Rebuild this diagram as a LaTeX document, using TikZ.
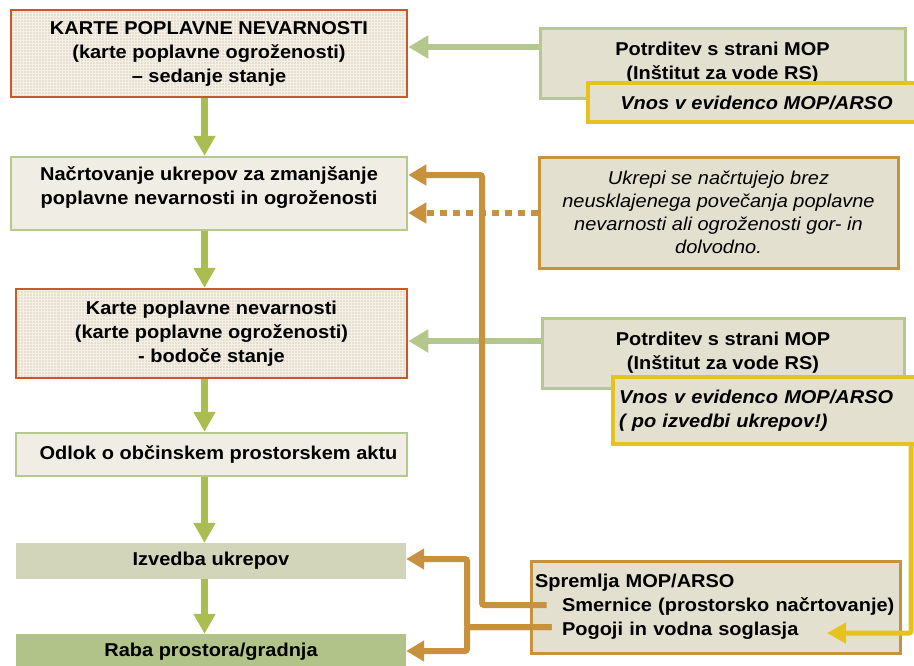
\documentclass[tikz,border=0pt]{standalone}
\usepackage{fontspec}
\setmainfont[FakeStretch=1.075]{Liberation Sans}
\usetikzlibrary{arrows.meta}
\definecolor{kred}{HTML}{C8572A}
\definecolor{kfill}{HTML}{E6DFCF}
\definecolor{kgrid}{HTML}{F4F0E7}
\definecolor{gborder}{HTML}{B5C98F}
\definecolor{lightfill}{HTML}{F0EDE5}
\definecolor{rfill}{HTML}{E4E0CF}
\definecolor{izfill}{HTML}{D3D5BA}
\definecolor{rabafill}{HTML}{B2C38A}
\definecolor{garr}{HTML}{A9BD50}
\definecolor{harr}{HTML}{B4C78D}
\definecolor{oarr}{HTML}{C8913C}
\definecolor{yarr}{HTML}{E6C21F}
\tikzset{
  base/.style={rectangle, align=center, inner sep=3pt},
  kbox/.style={base, draw=kred, line width=2.5, fill=kfill,
    path picture={\draw[kgrid, line width=0.7] (path picture bounding box.south west) grid[step=3pt] (path picture bounding box.north east);}},
  lbox/.style={base, draw=gborder, line width=2.5, fill=lightfill},
  rbox/.style={base, draw=gborder, line width=3, fill=rfill},
  vbox/.style={base, draw=yarr, line width=3.3, fill=rfill, font=\fontsize{18.6}{24}\selectfont\bfseries\itshape},
  obox/.style={base, draw=oarr, line width=3, fill=rfill},
  garrow/.style={draw=garr, line width=7, -{Triangle[width=21pt,length=20pt]}},
  harrow/.style={draw=harr, line width=6, -{Triangle[width=22pt,length=20pt]}},
  oarrow/.style={draw=oarr, line width=6, rounded corners=2, -{Triangle[width=20pt,length=18pt]}},
  yarrow/.style={draw=yarr, line width=5, rounded corners=2, -{Triangle[width=20pt,length=19pt]}},
}
\begin{document}
\begin{tikzpicture}[x=1pt, y=-1pt, font=\fontsize{18.6}{24}\selectfont\bfseries]
\fill[white] (0,0) rectangle (914,665);
\useasboundingbox (0,0) rectangle (914,665);

% left column
\node[kbox, minimum width=396, minimum height=87] (k1) at (209,53.5)
  {KARTE POPLAVNE NEVARNOSTI\\(karte poplavne ogroženosti)\\– sedanje stanje};
\node[lbox, minimum width=396, minimum height=73, text depth=15pt] (n2) at (209,193.5)
  {Načrtovanje ukrepov za zmanjšanje\\poplavne nevarnosti in ogroženosti};
\node[kbox, minimum width=391, minimum height=89] (k3) at (211.5,333.5)
  {Karte poplavne nevarnosti\\(karte poplavne ogroženosti)\\- bodoče stanje};
\node[lbox, minimum width=391, minimum height=43] (o4) at (211.5,454.5)
  {\hspace*{14pt}Odlok o občinskem prostorskem aktu};
\node[base, fill=izfill, minimum width=390, minimum height=36] (i5) at (211,561)
  {Izvedba ukrepov};
\node[base, fill=rabafill, minimum width=390, minimum height=36] (r6) at (211,652)
  {Raba prostora/gradnja};

% right column
\node[rbox, minimum width=365, minimum height=70] (p1) at (722.5,63)
  {Potrditev s strani MOP\\(Inštitut za vode RS)};
\node[vbox, minimum width=337, minimum height=39] (v1) at (756.5,102.5)
  {Vnos v evidenco MOP/ARSO};
\node[obox, minimum width=359, minimum height=111,
  font=\fontsize{18.6}{23}\selectfont\mdseries\itshape] (u) at (718.5,212.5)
  {Ukrepi se načrtujejo brez\\neusklajenega povečanja poplavne\\nevarnosti ali ogroženosti gor- in\\dolvodno.};
\node[rbox, minimum width=362, minimum height=70] (p2) at (723,353)
  {Potrditev s strani MOP\\(Inštitut za vode RS)};
\node[vbox, text width=300pt, inner xsep=6pt, align=left, minimum height=67] (v2) at (769,410.5)
  {Vnos v evidenco MOP/ARSO\\( po izvedbi ukrepov!)};
\node[obox, text width=361pt, inner xsep=4pt, align=left, minimum height=92] (s) at (715.5,607)
  {Spremlja MOP/ARSO\\\hspace*{27pt}Smernice (prostorsko načrtovanje)\\\hspace*{27pt}Pogoji in vodna soglasja};

% helper coordinates
\coordinate (xa) at (204.5,0);
\coordinate (smern) at ([xshift=17]s.west |- 0,605);
\coordinate (pogoji) at ([xshift=22]s.west |- 0,627);
\coordinate (yend) at (827,633);

% green vertical arrows
\draw[garrow] (k1.south -| xa) -- (n2.north -| xa);
\draw[garrow] (n2.south -| xa) -- (k3.north -| xa);
\draw[garrow] (k3.south -| xa) -- (o4.north -| xa);
\draw[garrow] (o4.south -| xa) -- (i5.north -| xa);
\draw[garrow] (i5.south -| xa) -- (r6.north -| xa);

% green horizontal arrows
\draw[harrow] (p1.west |- 0,47) -- (k1.east |- 0,47);
\draw[harrow] (p2.west |- 0,341) -- (k3.east |- 0,341);

% orange arrows
\draw[oarrow, dash pattern=on 7pt off 6pt] (u.west |- 0,213) -- (n2.east |- 0,213);
\draw[oarrow] (smern) -- (482,605) -- (482,175) -- (n2.east |- 0,175);
\draw[oarrow] (pogoji) -- (467,627) -- (467,559) -- (i5.east |- 0,559);
\draw[oarrow] (pogoji) -- (467,627) -- (467,651) -- (r6.east |- 0,651);

% yellow arrow
\draw[yarrow] (v2.south -| 911,0) -- (911,633) -- (yend);
\end{tikzpicture}
\end{document}
